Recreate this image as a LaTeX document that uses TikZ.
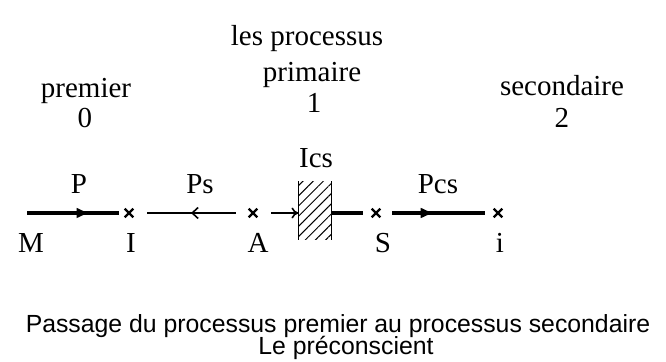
\documentclass[tikz,border=0pt]{standalone}
\usepackage{fontspec}
\setmainfont{Liberation Serif}
\setsansfont{Liberation Sans}
\usetikzlibrary{arrows.meta,decorations.markings,patterns.meta,shapes.misc}
\begin{document}
\begin{tikzpicture}[x=0.5pt,y=-0.5pt,
  lbl/.style={font=\fontsize{14.5}{17}\selectfont, inner sep=0, anchor=base},
  captext/.style={font=\sffamily\fontsize{12.4}{14}\selectfont, inner sep=0, anchor=base},
  tick/.style={cross out, draw, line width=1.1pt, minimum size=3.2pt, inner sep=0},
  heavy/.style={line width=2pt},
  light/.style={line width=0.8pt},
  midhead/.style={postaction={decorate}, decoration={markings,
      mark=at position #1 with {\arrow{Latex[length=7pt,width=5.5pt]}}}},
  midbarb/.style={postaction={decorate}, decoration={markings,
      mark=at position #1 with {\arrow{Straight Barb[length=3pt,width=5.5pt,line width=0.8pt]}}}},
  screen/.style={minimum width=16pt, minimum height=29pt, inner sep=0,
      pattern={Lines[angle=45,distance=3.6pt,line width=0.5pt]}},
]
\useasboundingbox[fill=white] (0,0) rectangle (666,362);

% headings
\node[lbl] (hd) at (307,46) {les processus};
\node[lbl] (p0) at (86,98) {premier};
\node[lbl] (n0) at (85,128) {0};
\node[lbl] (p1) at (312,82) {primaire};
\node[lbl] (n1) at (314,113) {1};
\node[lbl] (p2) at (562,96) {secondaire};
\node[lbl] (n2) at (562,128) {2};

% points on the line
\coordinate (m0) at (27,213);
\node[tick] (I) at (129,213) {};
\node[tick] (A) at (253,213) {};
\node[tick] (S) at (376,213) {};
\node[tick] (i) at (498,213) {};
\node[screen] (box) at (315,211) {};
\draw[light] (box.north west) -- (box.south west);
\draw[light] (box.north east) -- (box.south east);

% connectors
\draw[heavy,midhead=0.65,shorten >=3pt] (m0) -- (I);
\draw[light,midbarb=0.5,shorten <=6.5pt,shorten >=7pt] (A) -- (I);
\draw[light,-{To[length=3.5pt,width=5.5pt]},shorten <=7pt] (A) -- (box.west |- A);
\draw[heavy,shorten >=4.5pt] (box.east |- S) -- (S);
\draw[heavy,midhead=0.48,shorten <=6pt,shorten >=4.5pt] (S) -- (i);

% labels
\node[lbl] (lP) at (79,194) {P};
\node[lbl] (lPs) at (200,194) {Ps};
\node[lbl] (lIcs) at (316,168) {Ics};
\node[lbl] (lPcs) at (438,194) {Pcs};
\node[lbl] (lM) at (31,253) {M};
\node[lbl] (lI) at (131,253) {I};
\node[lbl] (lA) at (258,253) {A};
\node[lbl] (lS) at (383,253) {S};
\node[lbl] (li) at (500,253) {i};

% caption
\node[captext] (c1) at (338,333) {Passage du processus premier au processus secondaire};
\node[captext] (c2) at (346,355) {Le préconscient};
\end{tikzpicture}
\end{document}
